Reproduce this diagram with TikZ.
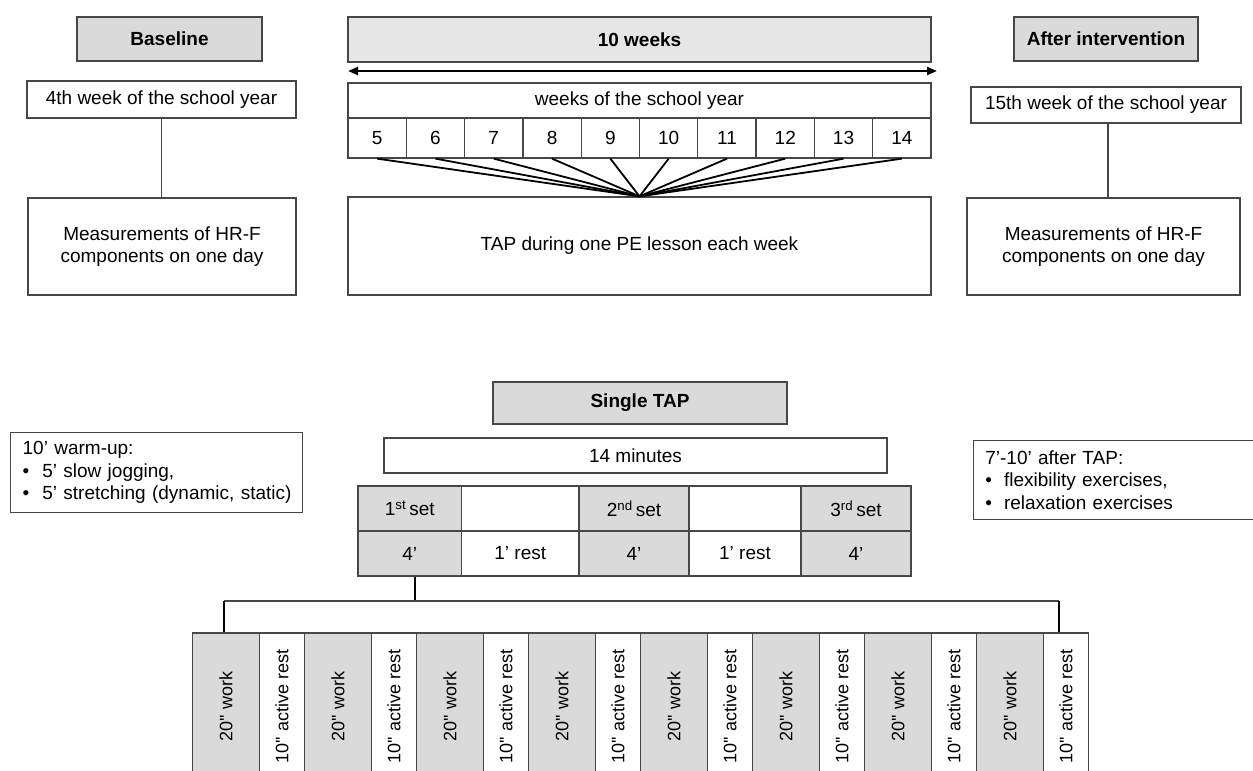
\documentclass[tikz,border=0pt]{standalone}
\usepackage{fontspec}
\usepackage{graphicx}
\setmainfont{Liberation Sans}
\newfontfamily\straightfont{Liberation Sans}
\usetikzlibrary{arrows.meta}
\definecolor{bord}{HTML}{474747}
\definecolor{gfill}{HTML}{DADADA}
\definecolor{lfill}{HTML}{E6E6E6}
\begin{document}
\begin{tikzpicture}[x=1pt,y=-1pt,
  every node/.style={font=\fontsize{19}{22.5}\selectfont},
  cell/.style={draw=bord, line width=1.3pt, inner sep=0pt, rectangle, align=center},
  greycell/.style={cell, fill=gfill},
  headbox/.style={cell, fill=gfill, font=\fontsize{19}{22.5}\selectfont\bfseries},
  fan/.style={line width=1.8pt, black},
  thin/.style={line width=1.3pt, bord},
  treeline/.style={line width=2pt, black},
  listbox/.style={cell, anchor=north west, align=left, inner xsep=12pt}
]
\useasboundingbox (0,0) rectangle (1253,771);

% ---- top headers
\node[headbox, minimum width=185, minimum height=44] (base) at (169.5,39) {Baseline};
\node[headbox, fill=lfill, minimum width=583, minimum height=45] (ten) at (639.5,39.5) {10 weeks};
\node[headbox, minimum width=184, minimum height=44] (after) at (1106,39) {After intervention};

\coordinate (aL) at (348,71);
\coordinate (aR) at (937,71);
\draw[line width=2.4pt, {Triangle[length=10pt,width=8pt]}-{Triangle[length=10pt,width=8pt]}] (aL) -- (aR);

% ---- left column
\node[cell, minimum width=269, minimum height=37] (w4) at (161.5,99.5) {4th week of the school year};
\node[cell, minimum width=268, minimum height=97] (measL) at (162,246.5) {Measurements of HR-F\\components on one day};
\draw[thin] (w4.south) -- (w4.south |- measL.north);

% ---- middle column
\node[cell, minimum width=583, minimum height=35] (wk) at (639.5,100.5) {weeks of the school year};
\foreach \n [count=\i from 0] in {5,...,14} {
  \node[cell, minimum width=58.3, minimum height=40] (c\i) at ({348+58.3*(\i+0.5)},138) {\n};
}
\node[cell, minimum width=583, minimum height=98] (tap) at (639.5,246) {TAP during one PE lesson each week};
\foreach \i in {0,...,9} {
  \draw[fan] (c\i.south) -- (tap.north);
}

% ---- right column
\node[cell, minimum width=270, minimum height=36] (w15) at (1106,105) {15th week of the school year};
\node[cell, minimum width=273, minimum height=97] (measR) at (1103.5,246.5) {Measurements of HR-F\\components on one day};
\draw[thin] ([xshift=2pt]w15.south) -- ([xshift=2pt]w15.south |- measR.north);

% ---- single TAP
\node[headbox, minimum width=294, minimum height=42] (single) at (640,403) {Single TAP};
\node[cell, minimum width=503, minimum height=35] (fourteen) at (635.5,455.5) {14 minutes};

\node[listbox, minimum width=292, minimum height=80, text width=268] (warm) at (10,432)
  {\mbox{10’ warm-up:}\\\mbox{\textbullet\hspace{13pt}5’ slow jogging,}\\\mbox{\textbullet\hspace{13pt}5’ stretching (dynamic, static)}};
\node[listbox, minimum width=300, minimum height=79, text width=276] (cool) at (972.7,440)
  {\mbox{7’-10’ after TAP:}\\\mbox{\textbullet\hspace{12pt}flexibility exercises,}\\\mbox{\textbullet\hspace{12pt}relaxation exercises}};

% set table
\node[greycell, minimum width=103.5, minimum height=45] (s1) at (409.75,508.5) {1\textsuperscript{st}\,set};
\node[cell, minimum width=117.5, minimum height=45] (s2) at (520.25,508.5) {};
\node[greycell, minimum width=110, minimum height=45] (s3) at (634,508.5) {2\textsuperscript{nd}\,set};
\node[cell, minimum width=112, minimum height=45] (s4) at (745,508.5) {};
\node[greycell, minimum width=110, minimum height=45] (s5) at (856,508.5) {3\textsuperscript{rd}\,set};
\node[greycell, minimum width=103.5, minimum height=45] (t1) at (409.75,553.5) {4’};
\node[cell, minimum width=117.5, minimum height=45] (t2) at (520.25,553.5) {1’ rest};
\node[greycell, minimum width=110, minimum height=45] (t3) at (634,553.5) {4’};
\node[cell, minimum width=112, minimum height=45] (t4) at (745,553.5) {1’ rest};
\node[greycell, minimum width=110, minimum height=45] (t5) at (856,553.5) {4’};

% interval cells
\foreach \k in {0,...,7} {
  \node[greycell, minimum width=67, minimum height=147] (wo\k) at ({192.5+112*\k+33.5},706.5)
    {\rotatebox{90}{\fontsize{18}{22}\straightfont 20'' work}};
  \node[cell, minimum width=45, minimum height=147] (re\k) at ({192.5+112*\k+67+22.5},706.5)
    {\rotatebox{90}{\fontsize{18}{22}\straightfont 10'' active rest}};
}

% tree
\coordinate (split) at (415,601);
\draw[treeline] ([xshift=5pt]t1.south) -- ([xshift=5pt]t1.south |- split);
\draw[thin] ([xshift=-2pt]wo0.north |- split) -- ([xshift=-7pt]re7.north |- split);
\draw[treeline] ([xshift=-2pt]wo0.north |- split) -- ([xshift=-2pt]wo0.north);
\draw[treeline] ([xshift=-7pt]re7.north |- split) -- ([xshift=-7pt]re7.north);
\end{tikzpicture}
\end{document}
